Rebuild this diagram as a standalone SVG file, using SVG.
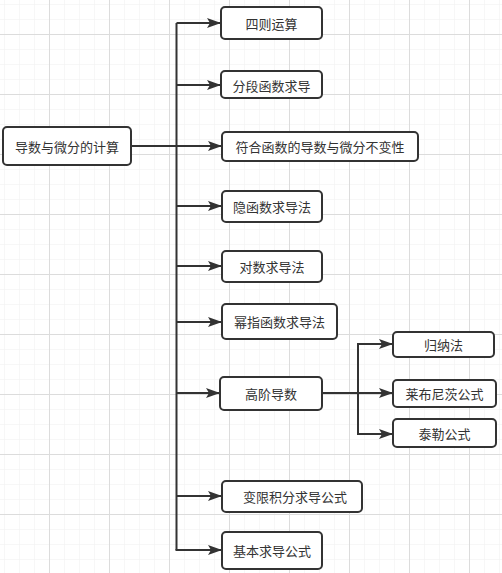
<svg xmlns="http://www.w3.org/2000/svg" width="502" height="573" viewBox="0 0 502 573">
  <style>
    .box { fill: #ffffff; stroke: #333333; stroke-width: 2; }
    .lbl { font-family: "Noto Sans CJK SC", "Noto Sans", sans-serif; font-size: 13px; fill: #333333; text-anchor: middle; dominant-baseline: central; }
    .edge { fill: none; stroke: #333333; stroke-width: 2; }
  </style>
  <defs>
    <pattern id="minor" x="4" y="4" width="15" height="15" patternUnits="userSpaceOnUse">
      <path d="M 0 0 L 15 0 M 0 0 L 0 15" fill="none" stroke="#efefef" stroke-width="1"/>
    </pattern>
    <pattern id="major" x="49" y="34" width="60" height="60" patternUnits="userSpaceOnUse">
      <path d="M 0 0.5 L 60 0.5 M 0.5 0 L 0.5 60" fill="none" stroke="#dcdcdc" stroke-width="1"/>
    </pattern>
    <marker id="arrow" viewBox="0 0 14 10" refX="13" refY="5" markerWidth="14" markerHeight="10" markerUnits="userSpaceOnUse" orient="auto">
      <path d="M 0 0 L 14 5 L 0 10 L 3 5 Z" fill="#333333"/>
    </marker>
  </defs>
  <rect width="502" height="573" fill="#ffffff"/>
  <rect width="502" height="573" fill="url(#minor)"/>
  <rect width="502" height="573" fill="url(#major)"/>

  <g id="connectors">
    <path class="edge" d="M 131 146 L 176.5 146"/>
    <path class="edge" d="M 176.5 23 L 176.5 550"/>
    <path class="edge" d="M 176.5 23 L 220 23" marker-end="url(#arrow)"/>
    <path class="edge" d="M 176.5 85 L 220 85" marker-end="url(#arrow)"/>
    <path class="edge" d="M 176.5 146 L 221 146" marker-end="url(#arrow)"/>
    <path class="edge" d="M 176.5 206 L 221 206" marker-end="url(#arrow)"/>
    <path class="edge" d="M 176.5 266 L 221 266" marker-end="url(#arrow)"/>
    <path class="edge" d="M 176.5 322 L 221 322" marker-end="url(#arrow)"/>
    <path class="edge" d="M 176.5 393 L 219 393" marker-end="url(#arrow)"/>
    <path class="edge" d="M 176.5 496 L 221 496" marker-end="url(#arrow)"/>
    <path class="edge" d="M 175.5 550 L 221 550" marker-end="url(#arrow)"/>
    <path class="edge" d="M 322 393 L 358 393"/>
    <path class="edge" d="M 358 344 L 358 434"/>
    <path class="edge" d="M 357 344 L 392 344" marker-end="url(#arrow)"/>
    <path class="edge" d="M 358 393 L 392 393" marker-end="url(#arrow)"/>
    <path class="edge" d="M 357 434 L 392 434" marker-end="url(#arrow)"/>
  </g>

  <g id="root">
    <rect class="box" x="3" y="127" width="128" height="38" rx="4"/>
    <text class="lbl" x="67" y="146">导数与微分的计算</text>
  </g>
  <g id="n1">
    <rect class="box" x="221" y="7" width="101" height="32" rx="4"/>
    <text class="lbl" x="271.5" y="23">四则运算</text>
  </g>
  <g id="n2">
    <rect class="box" x="221" y="71" width="101" height="27" rx="4"/>
    <text class="lbl" x="271.5" y="85">分段函数求导</text>
  </g>
  <g id="n3">
    <rect class="box" x="222" y="132" width="196" height="29" rx="4"/>
    <text class="lbl" x="320" y="146.5">符合函数的导数与微分不变性</text>
  </g>
  <g id="n4">
    <rect class="box" x="222" y="191" width="100" height="31" rx="4"/>
    <text class="lbl" x="272" y="206.5">隐函数求导法</text>
  </g>
  <g id="n5">
    <rect class="box" x="222" y="251" width="100" height="31" rx="4"/>
    <text class="lbl" x="272" y="266.5">对数求导法</text>
  </g>
  <g id="n6">
    <rect class="box" x="222" y="304" width="115" height="35" rx="4"/>
    <text class="lbl" x="279.5" y="321.5">幂指函数求导法</text>
  </g>
  <g id="n7">
    <rect class="box" x="220" y="377" width="102" height="33" rx="4"/>
    <text class="lbl" x="271" y="393.5">高阶导数</text>
  </g>
  <g id="n7a">
    <rect class="box" x="393" y="332" width="101" height="25" rx="4"/>
    <text class="lbl" x="443.5" y="344.5">归纳法</text>
  </g>
  <g id="n7b">
    <rect class="box" x="393" y="380" width="103" height="27" rx="4"/>
    <text class="lbl" x="444.5" y="393.5">莱布尼茨公式</text>
  </g>
  <g id="n7c">
    <rect class="box" x="393" y="419" width="103" height="28" rx="4"/>
    <text class="lbl" x="444.5" y="433.5">泰勒公式</text>
  </g>
  <g id="n8">
    <rect class="box" x="222" y="481" width="140" height="31" rx="4"/>
    <text class="lbl" x="295" y="496.5">变限积分求导公式</text>
  </g>
  <g id="n9">
    <rect class="box" x="222" y="532" width="100" height="37" rx="4"/>
    <text class="lbl" x="272" y="550.5">基本求导公式</text>
  </g>
</svg>
